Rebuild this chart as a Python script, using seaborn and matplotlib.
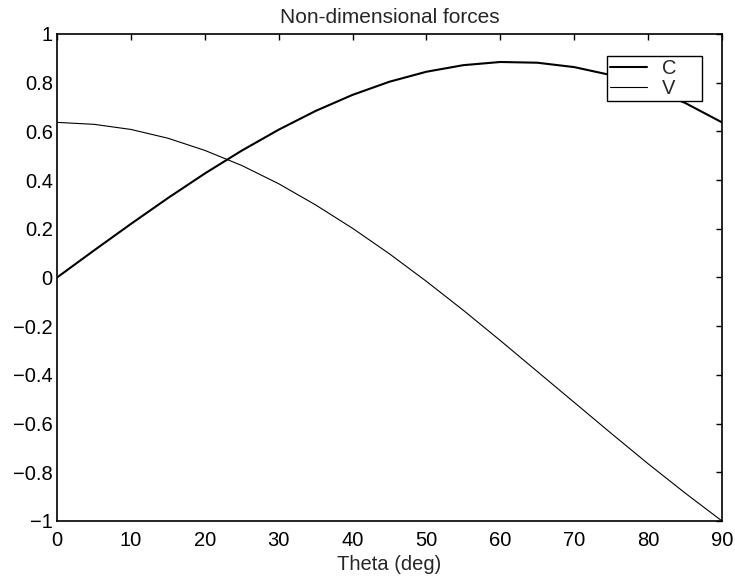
import numpy as np
import pandas as pd
import matplotlib
matplotlib.use("Agg")
import matplotlib.pyplot as plt
import seaborn as sns

# values, every 5 degrees
theta = [0, 5, 10, 15, 20, 25, 30, 35, 40, 45, 50, 55, 60, 65, 70, 75, 80, 85, 90]
c_vals = [0.000, 0.111, 0.220, 0.326, 0.427, 0.521, 0.607, 0.684, 0.750, 0.804,
          0.845, 0.872, 0.885, 0.882, 0.864, 0.831, 0.781, 0.717, 0.637]
v_vals = [0.637, 0.629, 0.608, 0.572, 0.522, 0.460, 0.385, 0.298, 0.202, 0.097,
          -0.016, -0.135, -0.259, -0.386, -0.513, -0.640, -0.765, -0.885, -1.000]

x_ticks = list(range(0, 91, 10))
y_ticks = [-1, -0.8, -0.6, -0.4, -0.2, 0, 0.2, 0.4, 0.6, 0.8, 1]
y_labels = ["\u22121", "\u22120.8", "\u22120.6", "\u22120.4", "\u22120.2", "0",
            "0.2", "0.4", "0.6", "0.8", "1"]

sns.set_style("white")
plt.rcParams["font.family"] = ["Liberation Sans", "DejaVu Sans"]

df = pd.DataFrame({"theta": theta, "C": c_vals, "V": v_vals})

fig = plt.figure(figsize=(7.35, 5.76), dpi=100)
ax = fig.add_axes([0.0776, 0.0955, 0.9047, 0.8455])

sns.lineplot(data=df, x="theta", y="C", color="black", linewidth=1.5, label="C", ax=ax)
sns.lineplot(data=df, x="theta", y="V", color="black", linewidth=0.8, label="V", ax=ax)

ax.set_xlim(0, 90)
ax.set_ylim(-1, 1)
ax.set_xticks(x_ticks)
ax.set_yticks(y_ticks)
ax.set_yticklabels(y_labels)
ax.tick_params(direction="in", length=4, width=1, top=True, right=True,
               labelsize=14.5, colors="black")
ax.tick_params(axis="x", pad=7)
ax.tick_params(axis="y", pad=3)
for sp in ax.spines.values():
    sp.set_color("black")
    sp.set_linewidth(1.2)
    sp.set_visible(True)

ax.set_title("Non-dimensional forces", fontsize=15, pad=8)
ax.set_xlabel("Theta (deg)", fontsize=14.5, labelpad=4)
ax.set_ylabel("")

# MATLAB-style legend box, wider than its content
leg = ax.legend(loc="upper left", bbox_to_anchor=(0.827, 0.955, 0.143, 0.0),
                mode="expand", borderaxespad=0,
                fancybox=False, framealpha=1, edgecolor="black", fontsize=14.5,
                handlelength=1.85, handletextpad=0.75, borderpad=0.15, labelspacing=0.05)
leg.get_frame().set_linewidth(1.0)

fig.savefig("out.png", dpi=100)
